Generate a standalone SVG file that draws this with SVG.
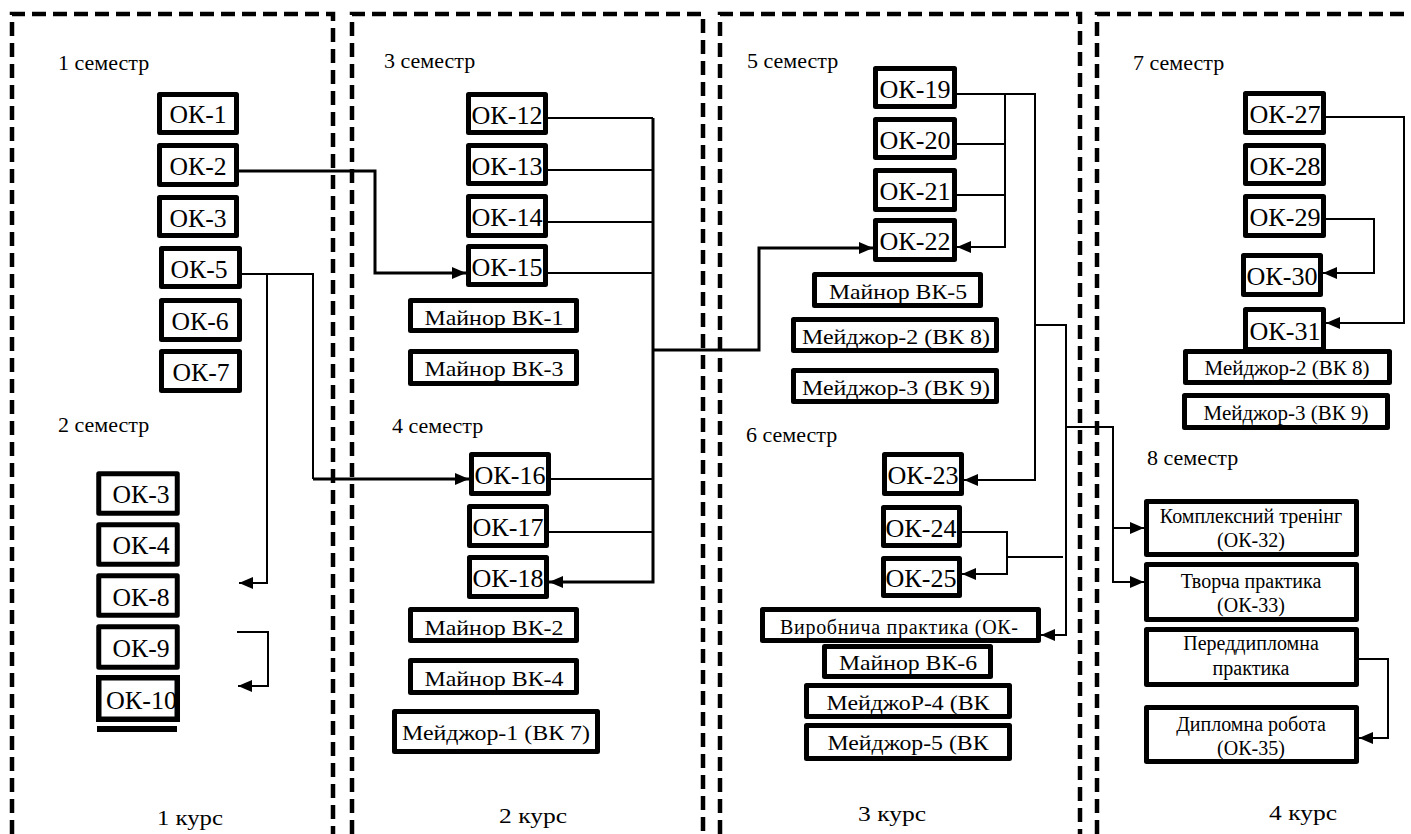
<svg xmlns="http://www.w3.org/2000/svg" width="1411" height="834" viewBox="0 0 1411 834" font-family="'Liberation Serif', 'Times New Roman', serif">
<defs>
<style>
.fr{fill:none;stroke:#000;stroke-width:4.5;stroke-dasharray:14 7}
.b{fill:#fff;stroke:#000;stroke-width:5;stroke-linejoin:round}
.bo{fill:none;stroke:#000;stroke-width:5.5}
text{font-family:'Liberation Serif','Times New Roman',serif;fill:#000;font-size:20px}
.ok{text-anchor:middle;font-size:22px}
.vk{text-anchor:middle;font-size:22px}
.sm{text-anchor:middle}
.sem{font-size:22px}
.kur{font-size:22px}
.c{fill:none;stroke:#000;stroke-width:2}
.c3{fill:none;stroke:#000;stroke-width:3}
</style>
<marker id="arr" viewBox="0 0 14 12" refX="14" refY="6" markerWidth="14" markerHeight="12" markerUnits="userSpaceOnUse" orient="auto"><path d="M0,0 L14,6 L0,12 z" fill="#000"/></marker>
</defs>
<rect width="1411" height="834" fill="#fff"/>
<g id="frames">
<path class="fr" d="M12,834 V14 H333 V834"/>
<path class="fr" d="M352,834 V14 H703 V834"/>
<path class="fr" d="M720,834 V14 H1080 V834"/>
<path class="fr" d="M1097,834 V14 H1411"/>
</g>
<g id="labels">
<text class="sem" x="58" y="70">1 семестр</text>
<text class="sem" x="58" y="432">2 семестр</text>
<text class="sem" x="384" y="68">3 семестр</text>
<text class="sem" x="392" y="433">4 семестр</text>
<text class="sem" x="747" y="68">5 семестр</text>
<text class="sem" x="746" y="442">6 семестр</text>
<text class="sem" x="1133" y="70">7 семестр</text>
<text class="sem" x="1147" y="465">8 семестр</text>
<text class="kur" x="157" y="825" textLength="66" lengthAdjust="spacingAndGlyphs">1 курс</text>
<text class="kur" x="499" y="823" textLength="68" lengthAdjust="spacingAndGlyphs">2 курс</text>
<text class="kur" x="858" y="821" textLength="68" lengthAdjust="spacingAndGlyphs">3 курс</text>
<text class="kur" x="1269" y="820" textLength="68" lengthAdjust="spacingAndGlyphs">4 курс</text>
</g>
<g id="ok1"><rect class="b" x="159.5" y="94.5" width="77" height="38"/><text class="ok" transform="translate(198 123) scale(1 1.18)" textLength="57" lengthAdjust="spacingAndGlyphs">ОК-1</text></g>
<g id="ok2"><rect class="b" x="159.5" y="145.5" width="77" height="39"/><text class="ok" transform="translate(198 175) scale(1 1.18)" textLength="57" lengthAdjust="spacingAndGlyphs">ОК-2</text></g>
<g id="ok3a"><rect class="b" x="159.5" y="197.5" width="77" height="38"/><text class="ok" transform="translate(198 227) scale(1 1.18)" textLength="57" lengthAdjust="spacingAndGlyphs">ОК-3</text></g>
<g id="ok5"><rect class="b" x="161.5" y="248.5" width="78" height="38"/><text class="ok" transform="translate(199 278) scale(1 1.18)" textLength="57" lengthAdjust="spacingAndGlyphs">ОК-5</text></g>
<g id="ok6"><rect class="b" x="161.5" y="300.5" width="78" height="39"/><text class="ok" transform="translate(200 330) scale(1 1.18)" textLength="57" lengthAdjust="spacingAndGlyphs">ОК-6</text></g>
<g id="ok7"><rect class="b" x="161.5" y="351.5" width="78" height="39"/><text class="ok" transform="translate(201 381) scale(1 1.18)" textLength="57" lengthAdjust="spacingAndGlyphs">ОК-7</text></g>
<g id="ok3b"><rect class="b" x="98.75" y="473.75" width="78.5" height="39.5"/><text class="ok" transform="translate(141 503) scale(1 1.18)" textLength="57" lengthAdjust="spacingAndGlyphs">ОК-3</text></g>
<g id="ok4"><rect class="b" x="98.75" y="524.75" width="78.5" height="39.5"/><text class="ok" transform="translate(141 554) scale(1 1.18)" textLength="57" lengthAdjust="spacingAndGlyphs">ОК-4</text></g>
<g id="ok8"><rect class="b" x="98.75" y="575.75" width="78.5" height="39.5"/><text class="ok" transform="translate(141 606) scale(1 1.18)" textLength="57" lengthAdjust="spacingAndGlyphs">ОК-8</text></g>
<g id="ok9"><rect class="b" x="98.75" y="626.75" width="78.5" height="40.5"/><text class="ok" transform="translate(141 657) scale(1 1.18)" textLength="57" lengthAdjust="spacingAndGlyphs">ОК-9</text></g>
<g id="ok10"><rect x="96" y="675" width="84" height="47" fill="#fff"/><text style="font-size:22px" transform="translate(106 709) scale(1 1.18)" textLength="71" lengthAdjust="spacingAndGlyphs">ОК-10</text><rect class="bo" x="98.75" y="677.75" width="78.5" height="41.5"/></g>
<g id="bar"><rect x="97" y="726" width="80" height="6" fill="#000"/></g>
<g id="ok12"><rect class="b" x="468.5" y="94.5" width="77" height="38"/><text class="ok" transform="translate(507 124) scale(1 1.18)" textLength="71" lengthAdjust="spacingAndGlyphs">ОК-12</text></g>
<g id="ok13"><rect class="b" x="468.5" y="145.5" width="77" height="38"/><text class="ok" transform="translate(507 175) scale(1 1.18)" textLength="71" lengthAdjust="spacingAndGlyphs">ОК-13</text></g>
<g id="ok14"><rect class="b" x="468.5" y="196.5" width="77" height="39"/><text class="ok" transform="translate(507 226) scale(1 1.18)" textLength="71" lengthAdjust="spacingAndGlyphs">ОК-14</text></g>
<g id="ok15"><rect class="b" x="468.5" y="246.5" width="77" height="38"/><text class="ok" transform="translate(507 276) scale(1 1.18)" textLength="71" lengthAdjust="spacingAndGlyphs">ОК-15</text></g>
<g id="vk1"><rect class="b" x="410.5" y="300.5" width="166" height="30"/><text class="vk" x="494" y="325" textLength="139" lengthAdjust="spacingAndGlyphs">Майнор ВК-1</text></g>
<g id="vk3"><rect class="b" x="410.5" y="351.5" width="166" height="32"/><text class="vk" x="494" y="376" textLength="139" lengthAdjust="spacingAndGlyphs">Майнор ВК-3</text></g>
<g id="ok16"><rect class="b" x="471.5" y="454.5" width="77" height="39"/><text class="ok" transform="translate(510 484) scale(1 1.18)" textLength="71" lengthAdjust="spacingAndGlyphs">ОК-16</text></g>
<g id="ok17"><rect class="b" x="469.5" y="506.5" width="77" height="39"/><text class="ok" transform="translate(508 536) scale(1 1.18)" textLength="71" lengthAdjust="spacingAndGlyphs">ОК-17</text></g>
<g id="ok18"><rect class="b" x="469.5" y="557.5" width="77" height="39"/><text class="ok" transform="translate(508 587) scale(1 1.18)" textLength="71" lengthAdjust="spacingAndGlyphs">ОК-18</text></g>
<g id="vk2"><rect class="b" x="410.5" y="609.5" width="166" height="31"/><text class="vk" x="494" y="635" textLength="139" lengthAdjust="spacingAndGlyphs">Майнор ВК-2</text></g>
<g id="vk4"><rect class="b" x="410.5" y="660.5" width="166" height="32"/><text class="vk" x="494" y="686" textLength="139" lengthAdjust="spacingAndGlyphs">Майнор ВК-4</text></g>
<g id="maj1"><rect class="b" x="394.5" y="711.5" width="203" height="40"/><text class="vk" x="496" y="740" textLength="188" lengthAdjust="spacingAndGlyphs">Мейджор-1 (ВК 7)</text></g>
<g id="ok19"><rect class="b" x="875.5" y="68.5" width="79" height="38"/><text class="ok" transform="translate(915 98) scale(1 1.18)" textLength="71" lengthAdjust="spacingAndGlyphs">ОК-19</text></g>
<g id="ok20"><rect class="b" x="875.5" y="119.5" width="79" height="38"/><text class="ok" transform="translate(915 149) scale(1 1.18)" textLength="71" lengthAdjust="spacingAndGlyphs">ОК-20</text></g>
<g id="ok21"><rect class="b" x="875.5" y="170.5" width="79" height="39"/><text class="ok" transform="translate(915 200) scale(1 1.18)" textLength="71" lengthAdjust="spacingAndGlyphs">ОК-21</text></g>
<g id="ok22"><rect class="b" x="875.5" y="220.5" width="79" height="39"/><text class="ok" transform="translate(915 250) scale(1 1.18)" textLength="71" lengthAdjust="spacingAndGlyphs">ОК-22</text></g>
<g id="vk5"><rect class="b" x="814.5" y="274.5" width="166" height="31"/><text class="vk" x="898" y="299" textLength="138" lengthAdjust="spacingAndGlyphs">Майнор ВК-5</text></g>
<g id="maj2"><rect class="b" x="793.5" y="319.5" width="203" height="31"/><text class="vk" x="896" y="344" textLength="188" lengthAdjust="spacingAndGlyphs">Мейджор-2 (ВК 8)</text></g>
<g id="maj3"><rect class="b" x="793.5" y="370.5" width="203" height="31"/><text class="vk" x="896" y="395" textLength="188" lengthAdjust="spacingAndGlyphs">Мейджор-3 (ВК 9)</text></g>
<g id="ok23"><rect class="b" x="884.5" y="454.5" width="77" height="39"/><text class="ok" transform="translate(923 484) scale(1 1.18)" textLength="71" lengthAdjust="spacingAndGlyphs">ОК-23</text></g>
<g id="ok24"><rect class="b" x="883.5" y="507.5" width="76" height="38"/><text class="ok" transform="translate(921 537) scale(1 1.18)" textLength="71" lengthAdjust="spacingAndGlyphs">ОК-24</text></g>
<g id="ok25"><rect class="b" x="883.5" y="558.5" width="76" height="37"/><text class="ok" transform="translate(921 587) scale(1 1.18)" textLength="71" lengthAdjust="spacingAndGlyphs">ОК-25</text></g>
<g id="vyr"><rect class="b" x="762.5" y="609.5" width="276" height="31"/><text x="780" y="634" textLength="238">Виробнича практика (ОК-</text></g>
<g id="vk6"><rect class="b" x="824.5" y="646.5" width="166" height="30"/><text class="vk" x="908" y="670" textLength="138" lengthAdjust="spacingAndGlyphs">Майнор ВК-6</text></g>
<g id="maj4"><rect class="b" x="806.5" y="685.5" width="203" height="31"/><text class="vk" x="908" y="710" textLength="163" lengthAdjust="spacingAndGlyphs">МейджоР-4 (ВК</text></g>
<g id="maj5"><rect class="b" x="806.5" y="725.5" width="203" height="33"/><text class="vk" x="908" y="750" textLength="161" lengthAdjust="spacingAndGlyphs">Мейджор-5 (ВК</text></g>
<g id="ok27"><rect class="b" x="1245.5" y="93.5" width="78" height="39"/><text class="ok" transform="translate(1285 123) scale(1 1.18)" textLength="71" lengthAdjust="spacingAndGlyphs">ОК-27</text></g>
<g id="ok28"><rect class="b" x="1245.5" y="145.5" width="78" height="38"/><text class="ok" transform="translate(1285 175) scale(1 1.18)" textLength="71" lengthAdjust="spacingAndGlyphs">ОК-28</text></g>
<g id="ok29"><rect class="b" x="1245.5" y="196.5" width="78" height="39"/><text class="ok" transform="translate(1285 226) scale(1 1.18)" textLength="71" lengthAdjust="spacingAndGlyphs">ОК-29</text></g>
<g id="ok30"><rect class="b" x="1243.5" y="255.5" width="77" height="39"/><text class="ok" transform="translate(1282 285) scale(1 1.18)" textLength="71" lengthAdjust="spacingAndGlyphs">ОК-30</text></g>
<g id="ok31"><rect class="b" x="1245.5" y="309.5" width="78" height="40"/><text class="ok" transform="translate(1285 340) scale(1 1.18)" textLength="71" lengthAdjust="spacingAndGlyphs">ОК-31</text></g>
<g id="maj2b"><rect class="b" x="1185.5" y="351.5" width="204" height="31"/><text class="sm" x="1287" y="375" textLength="165" lengthAdjust="spacingAndGlyphs">Мейджор-2 (ВК 8)</text></g>
<g id="maj3b"><rect class="b" x="1184.5" y="395.5" width="203" height="32"/><text class="sm" x="1286" y="420" textLength="165" lengthAdjust="spacingAndGlyphs">Мейджор-3 (ВК 9)</text></g>
<g id="ok32"><rect class="b" x="1146.5" y="501.5" width="210" height="53"/><text class="sm" x="1251" y="523">Комплексний тренінг</text><text class="sm" x="1251" y="547">(ОК-32)</text></g>
<g id="ok33"><rect class="b" x="1146.5" y="564.5" width="210" height="55"/><text class="sm" x="1251" y="588">Творча практика</text><text class="sm" x="1251" y="612">(ОК-33)</text></g>
<g id="ok34"><rect class="b" x="1146.5" y="629.5" width="210" height="55"/><text class="sm" x="1251" y="650">Переддипломна</text><text class="sm" x="1251" y="675">практика</text></g>
<g id="ok35"><rect class="b" x="1146.5" y="707.5" width="210" height="54"/><text class="sm" x="1251" y="731">Дипломна робота</text><text class="sm" x="1251" y="755">(ОК-35)</text></g>
<g id="connectors">
<path class="c3" d="M239,171 H375 V273 H466" marker-end="url(#arr)"/>
<path class="c" d="M242,274 H313 V479"/>
<path class="c3" d="M313,479 H469" marker-end="url(#arr)"/>
<path class="c" d="M267,274 V583 H239" marker-end="url(#arr)"/>
<path class="c" d="M237,632 H268 V686 H238" marker-end="url(#arr)"/>
<path class="c" d="M548,118 H653 M548,170 H653 M548,222 H653 M548,273 H653 M551,479 H653 M549,532 H653"/>
<path class="c3" d="M653,118 V582 H549" marker-end="url(#arr)"/>
<path class="c3" d="M653,350 H759 V248 H873" marker-end="url(#arr)"/>
<path class="c" d="M957,94 H1035 V480 H964" marker-end="url(#arr)"/>
<path class="c" d="M1005,94 V247 H957" marker-end="url(#arr)"/>
<path class="c" d="M957,144 H1005 M957,195 H1005"/>
<path class="c" d="M1035,325 H1066 V635 H1041" marker-end="url(#arr)"/>
<path class="c" d="M1066,427 H1113 V582 H1144" marker-end="url(#arr)"/>
<path class="c" d="M1113,528 H1144" marker-end="url(#arr)"/>
<path class="c" d="M962,532 H1007 V574 H962" marker-end="url(#arr)"/>
<path class="c" d="M1007,557 H1063"/>
<path class="c" d="M1326,117 H1404 V323 H1326" marker-end="url(#arr)"/>
<path class="c" d="M1326,219 H1374 V273 H1323" marker-end="url(#arr)"/>
<path class="c" d="M1359,659 H1388 V738 H1359" marker-end="url(#arr)"/>
</g>
</svg>
